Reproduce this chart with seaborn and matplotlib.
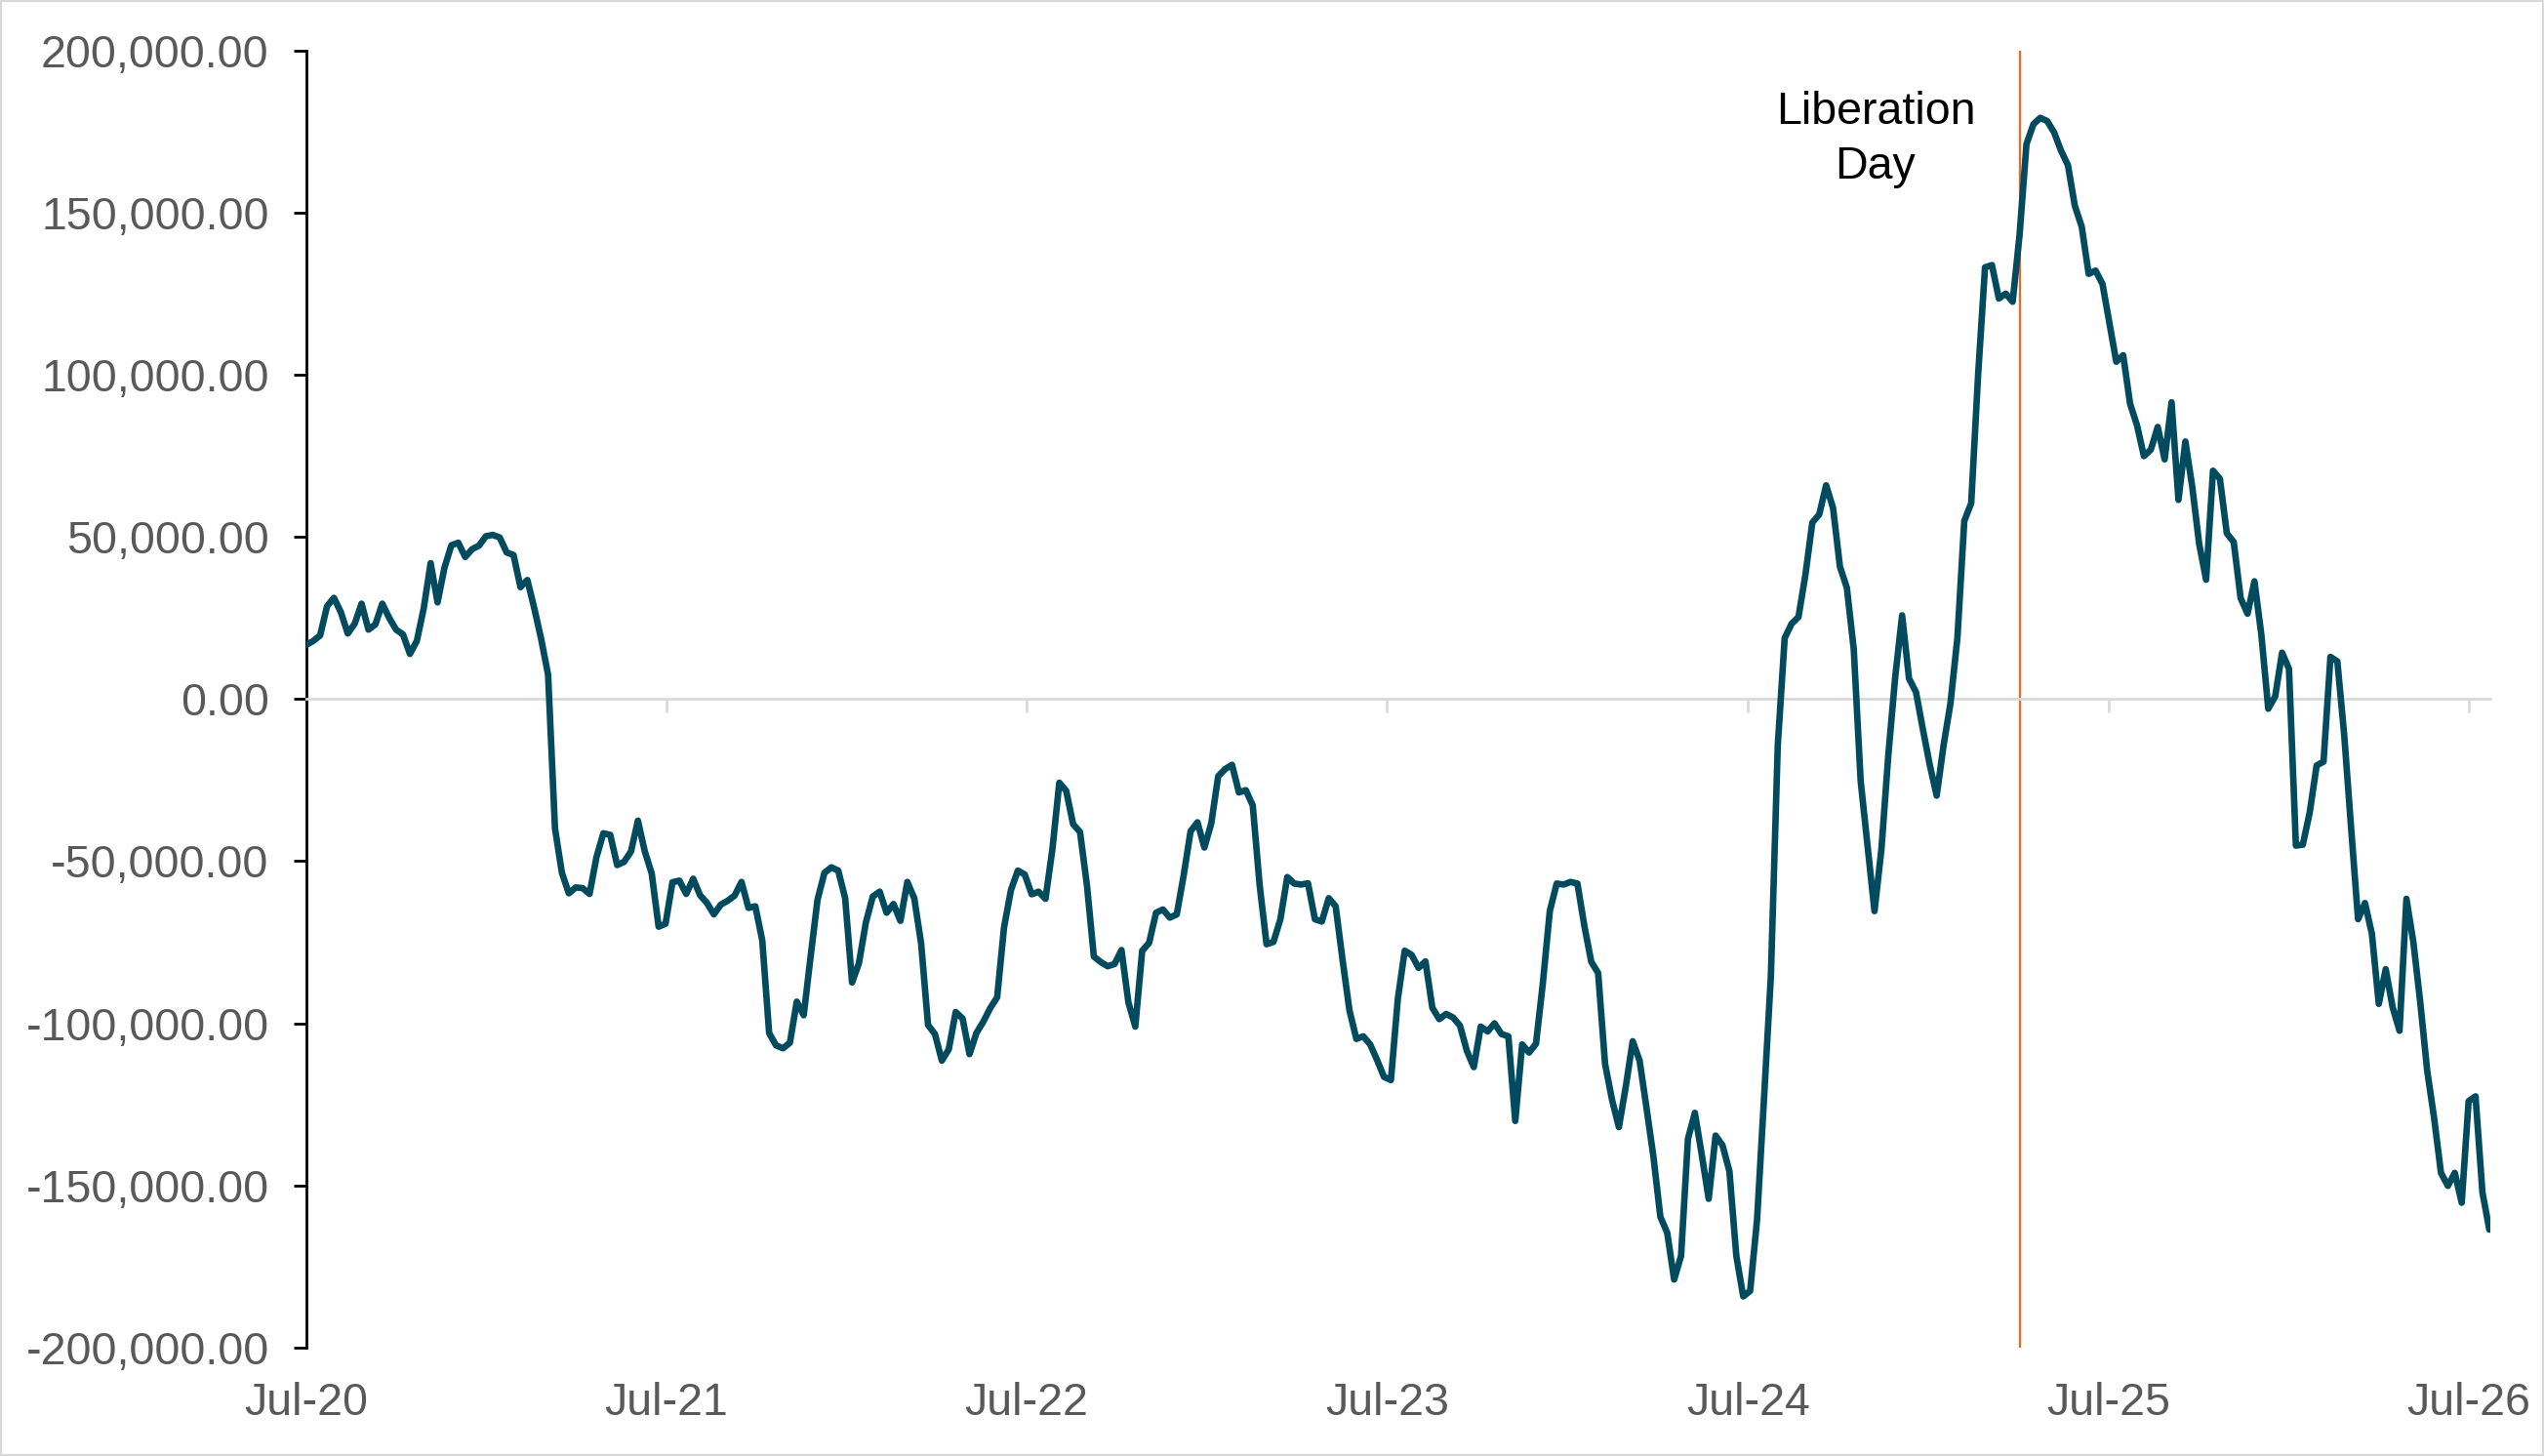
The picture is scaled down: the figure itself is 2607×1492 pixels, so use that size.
import matplotlib
matplotlib.use("Agg")
import matplotlib.pyplot as plt
import matplotlib.dates as mdates
import matplotlib.ticker as mticker
from matplotlib.patches import Rectangle
import pandas as pd
import seaborn as sns

# weekly series, first week starting 1 Jul 2020
start_date = "2020-07-01"
weekly_values = [
    16700, 17900, 19600, 28600, 31200, 26800, 20200, 23200, 29400, 21400,
    23000, 29400, 25000, 21400, 19900, 13900, 17900, 28000, 41900, 29800,
    40500, 47400, 48200, 43800, 46200, 47300, 50200, 50600, 49800, 45200,
    44400, 34500, 36700, 28000, 18500, 7500, -39900, -53600, -59900, -58100,
    -58300, -60100, -48800, -41400, -41900, -51200, -50200, -47000, -37500, -47000,
    -53800, -70200, -69300, -56500, -56000, -60100, -55400, -60500, -62900, -66400,
    -63400, -62200, -60600, -56400, -64400, -63900, -74400, -103000, -106800, -107700,
    -106000, -93300, -97500, -79400, -61900, -53600, -51900, -52900, -61400, -87400,
    -81400, -68900, -60900, -59400, -65900, -63200, -68400, -56400, -61400, -75400,
    -100500, -103300, -111500, -108000, -96500, -98500, -109500, -103000, -99500, -95300,
    -92000, -70400, -58900, -52900, -54100, -60200, -59400, -61600, -46300, -25800,
    -28300, -38600, -41000, -57400, -79400, -81100, -82400, -81700, -77400, -93500,
    -101000, -77600, -75200, -65900, -64900, -67400, -66400, -54400, -40800, -38000,
    -45800, -38300, -23800, -21600, -20300, -28800, -28100, -32800, -57400, -75600,
    -74900, -67900, -54900, -56900, -57200, -56800, -67900, -68600, -61400, -63900,
    -80400, -96000, -104800, -104000, -106500, -111300, -116500, -117500, -92500, -77600,
    -78900, -82900, -80900, -95200, -98700, -97100, -98200, -100700, -108500, -113500,
    -101000, -102500, -100000, -103300, -104000, -130100, -106500, -109000, -106300, -87500,
    -65400, -56900, -57200, -56400, -56900, -69900, -81000, -84500, -112500, -123500,
    -132000, -119500, -105500, -111500, -126100, -141100, -159600, -164600, -179000, -171700,
    -135600, -127600, -140600, -154100, -134600, -137600, -145600, -171700, -184200, -182500,
    -160600, -123500, -85500, -14300, 18800, 23200, 25300, 38300, 54400, 56900,
    65900, 58900, 40800, 34300, 15300, -25300, -45400, -65400, -46400, -17300,
    6800, 25800, 6300, 2200, -9300, -20300, -29800, -14300, -1300, 18800,
    54900, 60400, 100000, 133100, 133800, 123500, 125000, 122500, 143100, 171100,
    177200, 179200, 178200, 174700, 169100, 164600, 152100, 145600, 131100, 132100,
    128000, 116000, 104000, 106000, 91000, 84400, 74900, 76900, 83900, 73900,
    91500, 61400, 79400, 65400, 47800, 36800, 70400, 67900, 51100, 48400,
    31100, 26300, 36300, 19800, -3000, 800, 14300, 9300, -45200, -44900,
    -35000, -20500, -19300, 13000, 11600, -11300, -40000, -67900, -62900, -72400,
    -94000, -83300, -95000, -102300, -61600, -74900, -93500, -114500, -129100, -146100,
    -150100, -146100, -155300, -124000, -122500, -152100, -163600,
]

event_date = "2025-04-02"
event_label = "Liberation\nDay"
label_date = "2024-11-07"
label_value = 172500

y_ticks = [-200000, -150000, -100000, -50000, 0, 50000, 100000, 150000, 200000]
x_start = "2020-07-01"
x_end = "2026-07-23"

dates = pd.date_range(start_date, periods=len(weekly_values), freq="7D")
df = pd.DataFrame({"date": dates, "value": weekly_values})

sns.set_theme(style="white")
plt.rcParams["font.family"] = ["Liberation Sans", "DejaVu Sans"]
plt.rcParams["axes.unicode_minus"] = False

label_grey = "#595959"
axis_grey = "#D9D9D9"
font_size = 33.5

fig = plt.figure(figsize=(26.07, 14.92), dpi=100)
ax = fig.add_axes([0.1204, 0.0744, 0.8585, 0.8910])

ax.axvline(pd.Timestamp(event_date), color="#F26522", linewidth=1.6, zorder=2)
sns.lineplot(data=df, x="date", y="value", ax=ax, color="#024B5F",
             linewidth=4.8, zorder=3)

ax.text(pd.Timestamp(label_date), label_value, event_label, ha="center",
        va="center", multialignment="center", fontsize=font_size,
        color="black", linespacing=1.35)

ax.set_xlim(pd.Timestamp(x_start), pd.Timestamp(x_end))
ax.set_ylim(y_ticks[0], y_ticks[-1])
ax.set_yticks(y_ticks)
ax.yaxis.set_major_formatter(mticker.FuncFormatter(lambda v, pos: f"{v:,.2f}"))
ax.set_xlabel("")
ax.set_ylabel("")

for side in ["top", "right"]:
    ax.spines[side].set_visible(False)
ax.spines["left"].set_color("black")
ax.spines["left"].set_linewidth(2)
ax.spines["bottom"].set_position(("data", 0))
ax.spines["bottom"].set_color(axis_grey)
ax.spines["bottom"].set_linewidth(2)

ax.tick_params(axis="y", left=True, length=9.5, width=2, color="black",
               labelsize=font_size, labelcolor=label_grey, pad=18)

year_ticks = mdates.MonthLocator(bymonth=7, bymonthday=1)
ax.xaxis.set_major_locator(year_ticks)
ax.tick_params(axis="x", bottom=True, length=10, width=2, color=axis_grey,
               labelbottom=False, direction="out")

# date labels sit at the bottom, below the zero line
sec = ax.secondary_xaxis("bottom")
sec.xaxis.set_major_locator(mdates.MonthLocator(bymonth=7, bymonthday=1))
sec.xaxis.set_major_formatter(mdates.DateFormatter("%b-%y"))
sec.tick_params(axis="x", length=0, labelsize=font_size, labelcolor=label_grey,
                pad=25)
sec.spines["bottom"].set_visible(False)

fig.add_artist(Rectangle((0, 0), 1, 1, transform=fig.transFigure, fill=False,
                         edgecolor=axis_grey, linewidth=3))

fig.savefig("out.png", dpi=100)
